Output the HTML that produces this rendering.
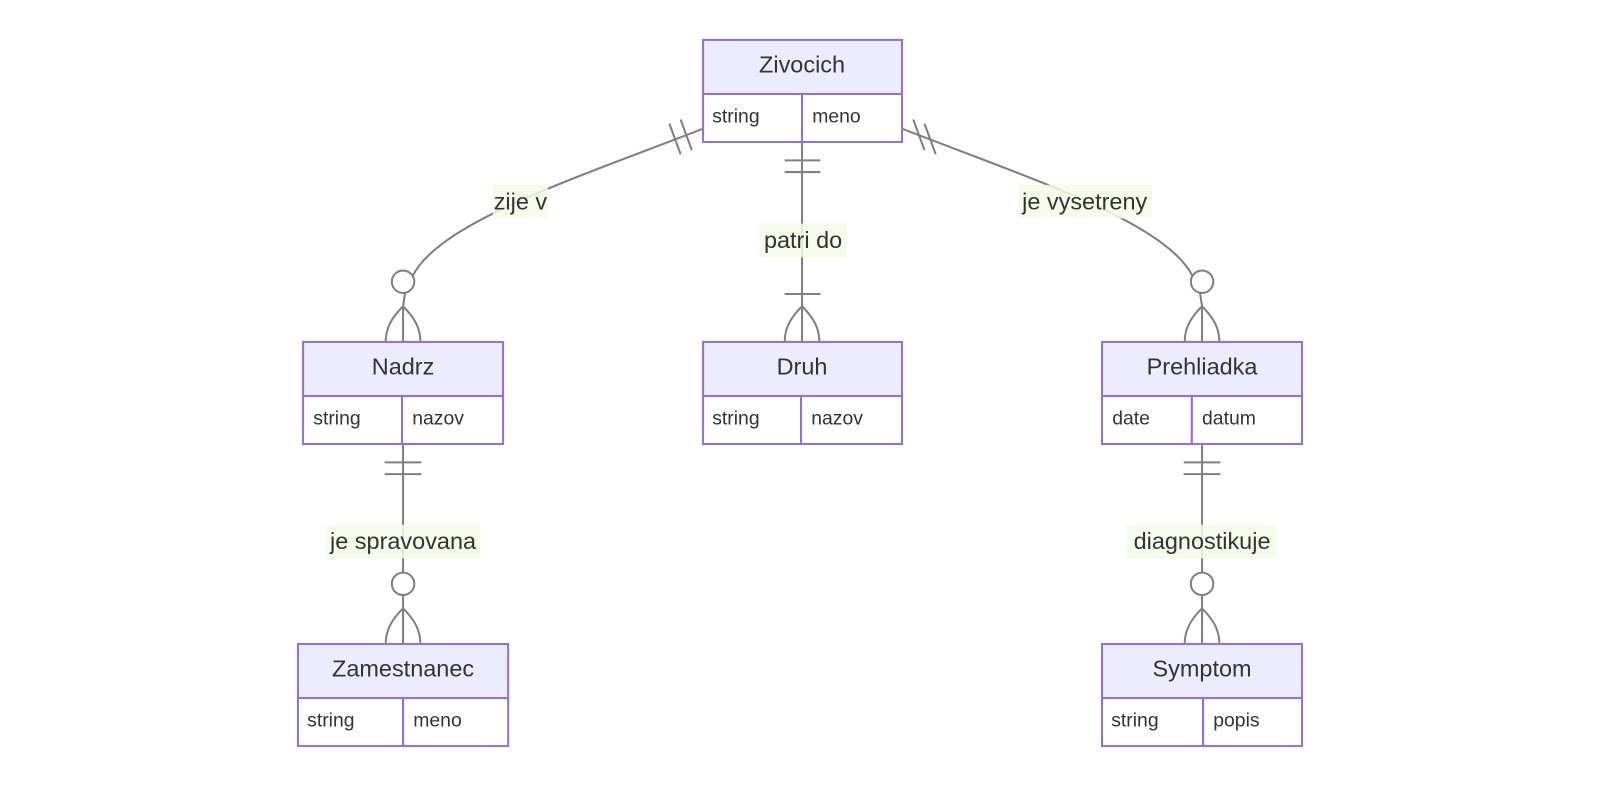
<!DOCTYPE html>
<html><head><meta charset="utf-8"><style>
html,body{margin:0;padding:0;background:#fff;}
svg{display:block;}
text{font-family:"Liberation Sans","DejaVu Sans",sans-serif;fill:#333;}
.box{fill:#ECECFF;stroke:#9370DB;stroke-width:2;}
.row{fill:#fff;stroke:#9370DB;stroke-width:2;}
.e{fill:none;stroke:#808080;stroke-width:2;}
.lb{fill:#f5fbe8;opacity:0.85;}
</style></head><body>
<svg width="1600" height="786" viewBox="0 0 1568 770" xmlns="http://www.w3.org/2000/svg">
<defs>
<g id="cf"><!-- crow foot apex at 0,0 pointing down to y=35 -->
<path class="e" d="M0,0 V35 M0,0 C-12,12 -17,22 -17,35 M0,0 C12,12 17,22 17,35"/>
</g>
</defs>

<!-- edges -->
<path class="e" d="M689,126 C560,176 430,218 404,271"/>
<circle class="e" cx="395" cy="276" r="11"/>
<path class="e" d="M397,287 L395,300"/>
<use href="#cf" x="395" y="300"/>
<path class="e" d="M656,121 L667,151 M667,117 L678,147"/>

<path class="e" d="M884,126 C1013,176 1143,218 1169,271"/>
<circle class="e" cx="1178" cy="276" r="11"/>
<path class="e" d="M1176,287 L1178,300"/>
<use href="#cf" x="1178" y="300"/>
<path class="e" d="M895,117 L906,147 M906,121 L917,151"/>

<path class="e" d="M786,139 V300"/>
<path class="e" d="M769,157 H804 M769,168.5 H804 M769,288 H804"/>
<use href="#cf" x="786" y="300"/>

<path class="e" d="M395,435 V561"/>
<path class="e" d="M377,453 H413 M377,464.5 H413"/>
<circle class="e" cx="395" cy="572" r="11"/>
<use href="#cf" x="395" y="596"/>
<path class="e" d="M395,583 V596"/>

<path class="e" d="M1178,435 V561"/>
<path class="e" d="M1160,453 H1196 M1160,464.5 H1196"/>
<circle class="e" cx="1178" cy="572" r="11"/>
<use href="#cf" x="1178" y="596"/>
<path class="e" d="M1178,583 V596"/>

<!-- labels -->
<rect class="lb" x="483" y="181" width="54" height="33"/>
<text x="510" y="205" font-size="23" text-anchor="middle">zije v</text>
<rect class="lb" x="744" y="219" width="86" height="33"/>
<text x="787" y="243" font-size="23" text-anchor="middle">patri do</text>
<rect class="lb" x="998" y="181" width="131" height="33"/>
<text x="1063" y="205" font-size="23" text-anchor="middle">je vysetreny</text>
<rect class="lb" x="319" y="514" width="152" height="33"/>
<text x="395" y="538" font-size="23" text-anchor="middle">je spravovana</text>
<rect class="lb" x="1104" y="514" width="147" height="33"/>
<text x="1178" y="538" font-size="23" text-anchor="middle">diagnostikuje</text>

<!-- entities -->
<g>
<rect class="box" x="689" y="39" width="195" height="53"/>
<rect class="row" x="689" y="92" width="97" height="47"/>
<rect class="row" x="786" y="92" width="98" height="47"/>
<text x="786" y="71" font-size="23" text-anchor="middle">Zivocich</text>
<text x="698" y="120" font-size="19">string</text>
<text x="796" y="120" font-size="19">meno</text>
</g>
<g>
<rect class="box" x="297" y="335" width="196" height="53"/>
<rect class="row" x="297" y="388" width="97" height="47"/>
<rect class="row" x="394" y="388" width="99" height="47"/>
<text x="395" y="367" font-size="23" text-anchor="middle">Nadrz</text>
<text x="307" y="416" font-size="19">string</text>
<text x="404" y="416" font-size="19">nazov</text>
</g>
<g>
<rect class="box" x="689" y="335" width="195" height="53"/>
<rect class="row" x="689" y="388" width="96" height="47"/>
<rect class="row" x="785" y="388" width="99" height="47"/>
<text x="786" y="367" font-size="23" text-anchor="middle">Druh</text>
<text x="698" y="416" font-size="19">string</text>
<text x="795" y="416" font-size="19">nazov</text>
</g>
<g>
<rect class="box" x="1080" y="335" width="196" height="53"/>
<rect class="row" x="1080" y="388" width="88" height="47"/>
<rect class="row" x="1168" y="388" width="108" height="47"/>
<text x="1178" y="367" font-size="23" text-anchor="middle">Prehliadka</text>
<text x="1090" y="416" font-size="19">date</text>
<text x="1178" y="416" font-size="19">datum</text>
</g>
<g>
<rect class="box" x="292" y="631" width="206" height="53"/>
<rect class="row" x="292" y="684" width="103" height="47"/>
<rect class="row" x="395" y="684" width="103" height="47"/>
<text x="395" y="663" font-size="23" text-anchor="middle">Zamestnanec</text>
<text x="301" y="712" font-size="19">string</text>
<text x="405" y="712" font-size="19">meno</text>
</g>
<g>
<rect class="box" x="1080" y="631" width="196" height="53"/>
<rect class="row" x="1080" y="684" width="99" height="47"/>
<rect class="row" x="1179" y="684" width="97" height="47"/>
<text x="1178" y="663" font-size="23" text-anchor="middle">Symptom</text>
<text x="1089" y="712" font-size="19">string</text>
<text x="1189" y="712" font-size="19">popis</text>
</g>
</svg>
</body></html>
